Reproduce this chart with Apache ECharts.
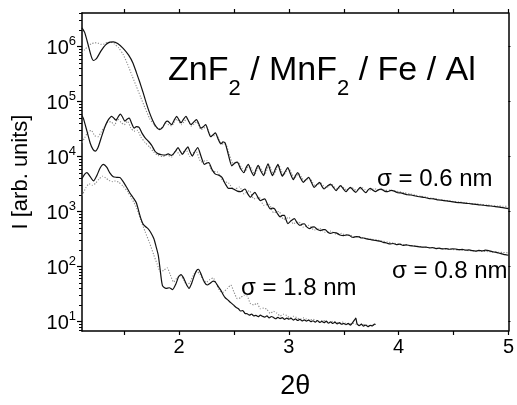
<!DOCTYPE html>
<html><head><meta charset="utf-8">
<script src="https://cdn.jsdelivr.net/npm/echarts@6/dist/echarts.min.js"></script>
<style>html,body{margin:0;padding:0;background:#fff}#c{width:517px;height:405px}</style>
</head><body><div id="c"></div>
<script>
// ---- data (x = 2θ, y = intensity) ----
const solid06 = [[1.115,2.2e6],[1.14,1.8e6],[1.17,1.1e6],[1.20,6.6e5],[1.22,5.6e5],[1.25,6.2e5],[1.29,8.5e5],[1.33,1.08e6],[1.37,1.21e6],[1.40,1.22e6],[1.44,1.14e6],[1.49,9.3e5],[1.54,7.0e5],[1.58,5.0e5],[1.61,3.4e5],[1.64,2.3e5],[1.67,1.5e5],[1.70,9.5e4],[1.73,6.3e4],[1.76,4.5e4],[1.79,3.5e4],[1.82,3.1e4],[1.85,3.4e4],[1.875,4.2e4],[1.896,4.4e4],[1.93,3.8e4],[1.96,4.8e4],[1.977,5.4e4],[2.00,4.6e4],[2.017,4.1e4],[2.04,4.8e4],[2.062,5.4e4],[2.085,4.5e4],[2.107,3.8e4],[2.13,4.2e4],[2.158,4.7e4],[2.18,3.9e4],[2.197,3.3e4],[2.22,3.5e4],[2.242,3.8e4],[2.265,2.9e4],[2.287,2.3e4],[2.31,2.5e4],[2.33,2.7e4],[2.355,2.1e4],[2.38,1.7e4],[2.40,1.85e4],[2.42,1.75e4],[2.45,1.05e4],[2.48,6800],[2.505,7600],[2.53,7900],[2.56,6000],[2.59,5100],[2.61,6300],[2.63,7200],[2.655,5500],[2.68,4500],[2.70,5800],[2.72,6900],[2.745,5400],[2.77,4500],[2.79,6000],[2.81,7400],[2.83,5600],[2.85,4500],[2.875,5800],[2.90,7200],[2.92,5500],[2.94,4400],[2.965,5300],[2.99,6300],[3.015,4800],[3.04,3800],[3.06,4500],[3.08,5100],[3.105,4100],[3.13,3400],[3.155,3800],[3.18,4200],[3.205,3400],[3.23,2750],[3.255,3100],[3.28,3400],[3.30,2900],[3.32,2570],[3.35,2900],[3.38,3160],[3.405,2750],[3.43,2400],[3.45,2700],[3.47,2950],[3.495,2600],[3.52,2290],[3.54,2550],[3.56,2750],[3.585,2450],[3.61,2240],[3.63,2500],[3.65,2750],[3.675,2450],[3.70,2200],[3.72,2450],[3.74,2650],[3.765,2450],[3.79,2300],[3.81,2450],[3.84,2550],[3.87,2350],[3.90,2300],[3.93,2420],[3.96,2350],[3.99,2200],[4.02,2180],[4.05,2100],[4.08,2020],[4.11,2000],[4.14,1950],[4.17,1880],[4.20,1850],[4.24,1800],[4.28,1720],[4.32,1700],[4.36,1620],[4.40,1600],[4.44,1560],[4.48,1520],[4.52,1470],[4.56,1450],[4.60,1420],[4.64,1400],[4.68,1360],[4.72,1340],[4.76,1310],[4.80,1280],[4.84,1260],[4.88,1230],[4.92,1200],[4.96,1170],[5.0,1130]];
const fit06 = [[1.115,7.8e5],[1.14,8.8e5],[1.17,1.02e6],[1.20,1.13e6],[1.23,1.18e6],[1.26,1.16e6],[1.29,1.1e6],[1.32,1.12e6],[1.35,1.2e6],[1.38,1.2e6],[1.41,1.12e6],[1.45,9.5e5],[1.49,7.2e5],[1.53,4.8e5],[1.57,3.0e5],[1.61,1.9e5],[1.65,1.2e5],[1.69,7.6e4],[1.73,5.0e4],[1.77,3.8e4],[1.80,3.3e4],[1.83,3.2e4],[1.86,3.7e4],[1.88,4.0e4],[1.905,3.8e4],[1.93,3.6e4],[1.955,4.2e4],[1.98,4.8e4],[2.00,4.3e4],[2.02,3.8e4],[2.045,4.3e4],[2.07,4.9e4],[2.09,4.2e4],[2.11,3.6e4],[2.135,3.9e4],[2.16,4.3e4],[2.18,3.6e4],[2.20,3.1e4],[2.225,3.3e4],[2.25,3.5e4],[2.27,2.8e4],[2.29,2.3e4],[2.315,2.4e4],[2.34,2.5e4],[2.365,2.0e4],[2.39,1.7e4],[2.41,1.7e4],[2.43,1.6e4],[2.46,1.05e4],[2.49,7500],[2.515,7700],[2.54,7800],[2.57,6200],[2.60,5400],[2.62,6200],[2.64,6900],[2.665,5700],[2.69,4800],[2.71,5700],[2.73,6600],[2.755,5500],[2.78,4700],[2.80,5800],[2.82,7000],[2.84,5700],[2.86,4700],[2.885,5700],[2.91,6800],[2.93,5600],[2.95,4600],[2.975,5300],[3.00,6000],[3.025,4900],[3.05,4000],[3.07,4500],[3.09,4900],[3.115,4200],[3.14,3600],[3.165,3800],[3.19,4000],[3.215,3400],[3.24,2900],[3.265,3100],[3.29,3300],[3.315,2950],[3.34,2700],[3.365,2900],[3.39,3100],[3.415,2800],[3.44,2550],[3.46,2700],[3.48,2900],[3.505,2650],[3.53,2450],[3.55,2600],[3.57,2750],[3.595,2550],[3.62,2400],[3.645,2550],[3.67,2700],[3.695,2520],[3.72,2400],[3.75,2500],[3.78,2600],[3.81,2480],[3.85,2500],[3.88,2430],[3.92,2450],[3.96,2380],[4.0,2300],[4.05,2200],[4.1,2100],[4.15,2000],[4.2,1900],[4.25,1830],[4.3,1750],[4.35,1690],[4.4,1620],[4.45,1570],[4.5,1520],[4.55,1490],[4.6,1450],[4.65,1410],[4.7,1380],[4.75,1350],[4.8,1320],[4.85,1290],[4.9,1260],[4.95,1250],[5.0,1240]];
const solid08 = [[1.115,5.6e4],[1.13,4.8e4],[1.16,2.9e4],[1.19,1.75e4],[1.215,1.35e4],[1.236,1.26e4],[1.26,1.45e4],[1.29,2.2e4],[1.32,3.3e4],[1.35,4.5e4],[1.386,5.4e4],[1.405,5.0e4],[1.425,4.6e4],[1.445,5.3e4],[1.465,5.9e4],[1.485,5.2e4],[1.505,4.4e4],[1.525,4.8e4],[1.545,5.0e4],[1.57,3.9e4],[1.59,3.3e4],[1.61,3.5e4],[1.635,3.4e4],[1.66,2.7e4],[1.69,2.2e4],[1.72,1.9e4],[1.75,1.6e4],[1.78,1.25e4],[1.81,1.12e4],[1.84,1.08e4],[1.87,1.06e4],[1.90,1.12e4],[1.93,1.05e4],[1.96,1.2e4],[1.99,1.45e4],[2.01,1.25e4],[2.03,1.1e4],[2.055,1.3e4],[2.08,1.5e4],[2.10,1.2e4],[2.12,1.02e4],[2.145,1.25e4],[2.17,1.45e4],[2.20,1.0e4],[2.23,7200],[2.25,7600],[2.27,7800],[2.30,5800],[2.33,4800],[2.36,4600],[2.39,4200],[2.42,3200],[2.45,2650],[2.48,2650],[2.50,2550],[2.53,2350],[2.56,2300],[2.58,2450],[2.60,2570],[2.625,2100],[2.65,1820],[2.67,2050],[2.69,2240],[2.715,1850],[2.74,1580],[2.76,1650],[2.78,1700],[2.805,1350],[2.83,1120],[2.85,1150],[2.87,1120],[2.895,920],[2.92,800],[2.94,850],[2.96,850],[2.975,700],[2.99,600],[3.02,680],[3.05,740],[3.075,620],[3.10,560],[3.12,590],[3.14,600],[3.165,520],[3.19,490],[3.21,520],[3.23,525],[3.26,470],[3.29,450],[3.31,470],[3.33,470],[3.355,420],[3.38,400],[3.405,415],[3.43,410],[3.465,375],[3.50,365],[3.525,375],[3.55,370],[3.57,345],[3.59,340],[3.615,350],[3.64,345],[3.66,330],[3.68,330],[3.71,318],[3.74,310],[3.77,302],[3.80,295],[3.83,290],[3.86,275],[3.89,268],[3.92,257],[3.95,262],[3.98,250],[4.01,255],[4.04,243],[4.07,248],[4.10,240],[4.13,236],[4.16,232],[4.19,228],[4.22,224],[4.25,226],[4.28,218],[4.31,221],[4.34,212],[4.37,215],[4.40,209],[4.43,212],[4.46,206],[4.49,210],[4.52,208],[4.55,202],[4.58,205],[4.61,198],[4.64,200],[4.67,194],[4.70,190],[4.73,196],[4.76,192],[4.79,198],[4.82,195],[4.85,186],[4.88,182],[4.91,176],[4.94,170],[4.97,164],[5.0,160]];
const fit08 = [[1.115,1.8e4],[1.14,2.2e4],[1.17,2.8e4],[1.20,3.0e4],[1.23,2.4e4],[1.26,2.3e4],[1.29,2.8e4],[1.32,3.5e4],[1.35,4.2e4],[1.38,4.3e4],[1.41,3.7e4],[1.44,4.8e4],[1.47,4.2e4],[1.50,3.8e4],[1.53,4.4e4],[1.56,3.3e4],[1.59,2.9e4],[1.62,3.0e4],[1.65,2.3e4],[1.69,1.8e4],[1.73,1.5e4],[1.77,1.2e4],[1.81,1.05e4],[1.85,1.0e4],[1.89,1.07e4],[1.93,9800],[1.97,1.3e4],[2.01,1.05e4],[2.06,1.35e4],[2.10,1.0e4],[2.15,1.3e4],[2.20,8000],[2.25,8500],[2.30,5500],[2.35,5200],[2.40,3600],[2.45,3300],[2.50,2500],[2.55,2800],[2.59,2100],[2.64,2400],[2.68,1700],[2.73,1800],[2.77,1300],[2.82,1350],[2.86,950],[2.91,1000],[2.95,720],[3.00,780],[3.04,600],[3.09,650],[3.13,520],[3.18,560],[3.23,460],[3.28,490],[3.33,420],[3.38,440],[3.43,390],[3.48,400],[3.52,365],[3.56,372],[3.60,345],[3.64,350],[3.68,330],[3.72,322],[3.76,312],[3.80,302],[3.85,290],[3.9,278],[3.95,268],[4.0,257],[4.05,250],[4.1,242],[4.15,236],[4.2,229],[4.25,224],[4.3,219],[4.35,214],[4.4,210],[4.45,206],[4.5,203],[4.55,200],[4.6,197],[4.65,194],[4.7,192],[4.75,190],[4.8,187],[4.85,185],[4.9,182],[4.95,180],[5.0,178]];
const solid18 = [[1.115,4000],[1.14,4800],[1.16,5100],[1.19,4300],[1.22,3600],[1.25,4500],[1.28,6200],[1.31,7200],[1.34,6400],[1.37,5000],[1.40,4300],[1.43,4200],[1.46,4150],[1.49,3500],[1.52,2800],[1.55,2200],[1.58,1800],[1.61,1450],[1.63,1050],[1.65,760],[1.67,600],[1.69,540],[1.716,490],[1.74,420],[1.77,320],[1.79,230],[1.81,160],[1.825,95],[1.838,58],[1.85,44],[1.88,40],[1.91,41],[1.94,38],[1.97,48],[1.995,65],[2.017,71],[2.04,62],[2.065,48],[2.09,40],[2.115,50],[2.14,70],[2.16,85],[2.176,89],[2.20,72],[2.23,52],[2.257,46],[2.28,49],[2.31,54],[2.33,52],[2.36,42],[2.38,37],[2.40,31],[2.42,27],[2.44,25],[2.47,22],[2.50,19.5],[2.52,18],[2.54,17],[2.56,15.5],[2.58,15.8],[2.60,14],[2.62,13.8],[2.64,13],[2.66,13.6],[2.68,12.6],[2.70,12.9],[2.72,12.2],[2.74,13],[2.76,12.4],[2.78,12],[2.80,12.6],[2.82,11.6],[2.84,12.3],[2.86,11.8],[2.88,11.2],[2.90,11.9],[2.92,11.3],[2.94,11.7],[2.96,10.9],[2.98,11.5],[3.00,11],[3.02,11.4],[3.04,10.6],[3.06,11.1],[3.08,10.4],[3.10,10.9],[3.12,10.2],[3.14,10.7],[3.16,10.1],[3.18,10.6],[3.20,9.9],[3.22,10.3],[3.24,9.7],[3.26,10.4],[3.28,9.6],[3.30,10],[3.32,9.5],[3.34,10.1],[3.36,9.3],[3.38,9.8],[3.40,9.2],[3.42,9.7],[3.44,9.0],[3.46,9.5],[3.48,8.9],[3.50,9.2],[3.52,8.7],[3.54,9.2],[3.56,8.6],[3.58,9.5],[3.60,10.8],[3.61,11.5],[3.62,9.2],[3.64,8.4],[3.66,8.9],[3.68,8.2],[3.70,8.6],[3.72,8.0],[3.74,8.5],[3.76,8.3],[3.78,8.9],[3.79,8.8]];
const fit18 = [[1.115,1950],[1.15,2700],[1.18,3200],[1.21,3000],[1.24,3300],[1.27,3900],[1.30,4400],[1.33,4100],[1.36,3700],[1.39,3500],[1.42,3600],[1.45,3400],[1.49,2900],[1.53,2300],[1.57,1700],[1.61,1200],[1.65,700],[1.69,430],[1.73,270],[1.77,160],[1.80,110],[1.83,80],[1.86,85],[1.89,95],[1.92,70],[1.95,52],[1.98,62],[2.01,68],[2.04,58],[2.07,46],[2.10,52],[2.13,70],[2.16,82],[2.19,72],[2.22,56],[2.25,52],[2.28,58],[2.31,62],[2.34,48],[2.37,36],[2.40,34],[2.44,40],[2.47,46],[2.50,34],[2.53,26],[2.56,27],[2.59,30],[2.62,29],[2.65,21],[2.68,20],[2.71,21.5],[2.74,17],[2.77,17.5],[2.80,16.5],[2.83,14],[2.86,15.3],[2.89,14.2],[2.92,12.6],[2.95,13.5],[2.98,12.8],[3.01,11.6],[3.04,12.4],[3.07,11.8],[3.10,10.9],[3.13,11.6],[3.16,11.1],[3.19,10.4],[3.22,11],[3.25,10.5],[3.28,9.9],[3.31,10.5],[3.34,10],[3.37,9.5],[3.40,10.1],[3.43,9.6],[3.46,9.2],[3.49,9.7],[3.52,9.2],[3.55,8.9],[3.58,9.3],[3.61,8.9],[3.64,8.6],[3.67,9.0],[3.70,8.6],[3.73,8.4],[3.76,8.7]];

const xTickValues = [1.5, 2, 2.5, 3, 3.5, 4, 4.5, 5];
const xLabelValues = [2, 3, 4, 5];
const yMajorValues = [10, 100, 1000, 10000, 100000, 1000000];
const yMinorValues = [7,8,9,20,30,40,50,60,70,80,90,200,300,400,500,600,700,800,900,2000,3000,4000,5000,6000,7000,8000,9000,2e4,3e4,4e4,5e4,6e4,7e4,8e4,9e4,2e5,3e5,4e5,5e5,6e5,7e5,8e5,9e5,2e6,3e6,4e6];
const titleText = '{m|ZnF}{s|2}{h| }{m|/ MnF}{s|2}{h| }{m|/ Fe / Al}';
const sigmaLabels = ['\u03c3 = 0.6 nm', '\u03c3 = 0.8 nm', '\u03c3 = 1.8 nm'];
const xName = '2\u03b8';
const yName = 'I [arb. units]';

const XMIN = 1.115, XMAX = 5, YMIN = 6.7, YMAX = 4.1e6;
const FONT = 'Liberation Sans, Arial, Helvetica, sans-serif';
const black = '#000';

const chart = echarts.init(document.getElementById('c'), null, {renderer: 'canvas'});

function xAx(pos, show) {
  return {
    type: 'value', position: pos, min: XMIN, max: XMAX, gridIndex: 0,
    axisLine: {show: true, onZero: false, lineStyle: {color: black, width: 1.5}},
    axisTick: {show: true, inside: false, length: 4, customValues: xTickValues, lineStyle: {color: black, width: 1.2}},
    axisLabel: show ? {show: true, customValues: xLabelValues, color: black, fontSize: 20, margin: 6, fontFamily: FONT} : {show: false},
    splitLine: {show: false},
    name: show ? xName : '', nameLocation: 'middle', nameGap: 42,
    nameTextStyle: {color: black, fontSize: 27, fontFamily: FONT}
  };
}
function yAx(pos, opts) {
  return Object.assign({
    type: 'log', logBase: 10, position: pos, min: YMIN, max: YMAX, gridIndex: 0,
    axisLine: {show: true, onZero: false, lineStyle: {color: black, width: 1.5}},
    splitLine: {show: false},
    axisLabel: {show: false},
    axisTick: {show: false}
  }, opts);
}

const option = {
  animation: false,
  backgroundColor: '#fff',
  textStyle: {fontFamily: FONT},
  grid: {left: 82, right: 5, top: 13, bottom: 72, containLabel: false},
  xAxis: [xAx('bottom', true), xAx('top', false)],
  yAxis: [
    yAx('left', {
      axisTick: {show: true, length: 5, customValues: yMajorValues, lineStyle: {color: black, width: 1.2}},
      axisLabel: {
        show: true, customValues: yMajorValues, margin: 6, color: black,
        formatter: function (v) { return '{b|10}{p|' + Math.round(Math.log10(v)) + '}'; },
        rich: {
          b: {fontSize: 20, lineHeight: 24, verticalAlign: 'bottom', color: black, fontFamily: FONT},
          p: {fontSize: 13, lineHeight: 10, verticalAlign: 'top', color: black, fontFamily: FONT}
        }
      },
      name: yName, nameLocation: 'middle', nameGap: 50, nameRotate: 90,
      nameTextStyle: {color: black, fontSize: 22, fontFamily: FONT}
    }),
    yAx('left', {
      axisLine: {show: false},
      axisTick: {show: true, length: 3, customValues: yMinorValues, lineStyle: {color: black, width: 1}}
    }),
    yAx('right', {
      axisTick: {show: true, inside: false, length: 2, customValues: yMajorValues, lineStyle: {color: black, width: 1}}
    })
  ],
  series: [
    {data: fit06}, {data: fit08}, {data: fit18},
    {data: solid06}, {data: solid08}, {data: solid18}
  ].map(function (s, i) {
    const dotted = i < 3;
    return {
      type: 'line', xAxisIndex: 0, yAxisIndex: 0, data: s.data,
      showSymbol: false, symbol: 'none', smooth: 0.2, clip: true,
      lineStyle: dotted ? {color: '#8a8a8a', width: 1.1, type: [1.2, 1.6]} : {color: '#111', width: 1.2},
      z: dotted ? 2 : 3
    };
  }),
  graphic: [
    {type: 'text', left: 168, top: 54, z: 10, style: {
      text: titleText, fill: black,
      rich: {
        m: {fontSize: 34, lineHeight: 34, verticalAlign: 'top', fontFamily: FONT, fill: black},
        h: {fontSize: 34, lineHeight: 46, verticalAlign: 'top', fontFamily: FONT, fill: black},
        s: {fontSize: 22, lineHeight: 22, verticalAlign: 'bottom', fontFamily: FONT, fill: black}
      }}},
    {type: 'text', left: 377, top: 167, z: 10, style: {text: sigmaLabels[0], fontSize: 24, fontFamily: FONT, fill: black}},
    {type: 'text', left: 392, top: 259, z: 10, style: {text: sigmaLabels[1], fontSize: 24, fontFamily: FONT, fill: black}},
    {type: 'text', left: 241, top: 276, z: 10, style: {text: sigmaLabels[2], fontSize: 24, fontFamily: FONT, fill: black}}
  ]
};
chart.setOption(option);
</script></body></html>
